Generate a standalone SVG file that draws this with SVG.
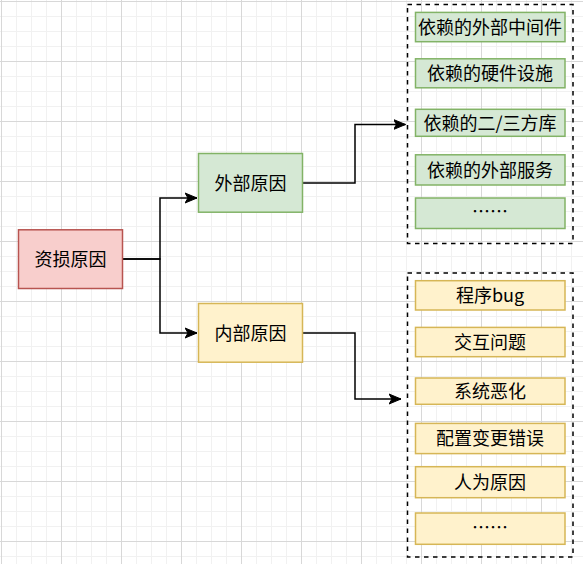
<svg xmlns="http://www.w3.org/2000/svg" width="583" height="564" viewBox="0 0 583 564">
  <style>
    text { font-family: "Noto Sans CJK SC", "Noto Sans", "Liberation Sans", sans-serif; font-size: 18px; fill: #000; text-anchor: middle; dominant-baseline: central; }
    .red { fill: #f8cecc; stroke: #b85450; stroke-width: 1.5; }
    .green { fill: #d5e8d4; stroke: #82b366; stroke-width: 1.5; }
    .yellow { fill: #fff2cc; stroke: #d6b656; stroke-width: 1.5; }
    .box { fill: none; stroke: #000; stroke-width: 1.5; stroke-dasharray: 4.5 4.5; }
    .edge { fill: none; stroke: #000; stroke-width: 1.5; marker-end: url(#arrow); }
  </style>
  <defs>
    <pattern id="grid" x="1" y="1" width="60" height="60" patternUnits="userSpaceOnUse">
      <path d="M15.5 0V60M30.5 0V60M45.5 0V60M0 15.5H60M0 30.5H60M0 45.5H60" stroke="#f1f1f1" stroke-width="1" fill="none"/>
      <path d="M0.5 0V60M0 0.5H60" stroke="#d8d8d8" stroke-width="1" fill="none"/>
    </pattern>
    <marker id="arrow" markerUnits="userSpaceOnUse" markerWidth="14" markerHeight="12" refX="12" refY="6" orient="auto" viewBox="0 0 14 12">
      <path d="M12 6 L0 1 L3 6 L0 11 Z" fill="#000" stroke="#000" stroke-width="1"/>
    </marker>
  </defs>
  <rect x="0" y="0" width="583" height="564" fill="#fff"/>
  <rect x="0" y="0" width="583" height="564" fill="url(#grid)"/>

  <g id="connectors">
    <path class="edge" d="M123 259 H160 V198 H197"/>
    <path class="edge" d="M123 259 H160 V333 H197"/>
    <path class="edge" d="M303 183 H355 V124.5 H405.5"/>
    <path class="edge" d="M303 333 H355 V399 H401"/>
  </g>

  <g id="root">
    <rect class="red" x="18.5" y="229.8" width="104" height="58.7"/>
    <text x="70.5" y="258">资损原因</text>
  </g>
  <g id="external">
    <rect class="green" x="198.5" y="153.5" width="104" height="58.7"/>
    <text x="250.5" y="182">外部原因</text>
  </g>
  <g id="internal">
    <rect class="yellow" x="198.5" y="303.5" width="104" height="58.7"/>
    <text x="250.5" y="332">内部原因</text>
  </g>

  <g id="external-group">
    <rect class="box" x="407.5" y="4.5" width="165.5" height="239"/>
    <g id="ext-1">
      <rect class="green" x="415.5" y="12.4" width="149.5" height="29.3"/>
      <text x="490" y="26">依赖的外部中间件</text>
    </g>
    <g id="ext-2">
      <rect class="green" x="415.5" y="58.8" width="149.5" height="29"/>
      <text x="490" y="72">依赖的硬件设施</text>
    </g>
    <g id="ext-3">
      <rect class="green" x="415.5" y="109.3" width="149.5" height="27"/>
      <text x="490" y="121.5">依赖的二/三方库</text>
    </g>
    <g id="ext-4">
      <rect class="green" x="415.5" y="154.8" width="149.5" height="30.2"/>
      <text x="490" y="168.5">依赖的外部服务</text>
    </g>
    <g id="ext-5">
      <rect class="green" x="415.5" y="198" width="149.5" height="30.5"/>
      <text x="490" y="210">……</text>
    </g>
  </g>

  <g id="internal-group">
    <rect class="box" x="407.5" y="273" width="165.5" height="284"/>
    <g id="int-1">
      <rect class="yellow" x="415.5" y="280.7" width="149.5" height="29.3"/>
      <text x="490" y="294">程序bug</text>
    </g>
    <g id="int-2">
      <rect class="yellow" x="415.5" y="327.4" width="149.5" height="29.3"/>
      <text x="490" y="341">交互问题</text>
    </g>
    <g id="int-3">
      <rect class="yellow" x="415.5" y="378" width="149.5" height="26.3"/>
      <text x="490" y="389.5">系统恶化</text>
    </g>
    <g id="int-4">
      <rect class="yellow" x="415.5" y="423.4" width="149.5" height="30.2"/>
      <text x="490" y="437">配置变更错误</text>
    </g>
    <g id="int-5">
      <rect class="yellow" x="415.5" y="466.7" width="149.5" height="31"/>
      <text x="490" y="481">人为原因</text>
    </g>
    <g id="int-6">
      <rect class="yellow" x="415.5" y="513" width="149.5" height="31.3"/>
      <text x="490" y="525.5">……</text>
    </g>
  </g>
</svg>
